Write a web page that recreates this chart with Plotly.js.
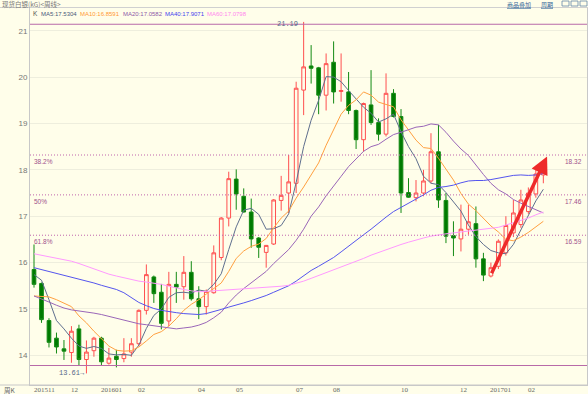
<!DOCTYPE html>
<html><head><meta charset="utf-8">
<script src="https://cdn.plot.ly/plotly-3.0.1.min.js"></script>
<style>html,body{margin:0;padding:0;background:#fffeea;overflow:hidden;}</style>
</head><body><div id="chart" style="width:588px;height:394px;"></div>
<script>
// ---- data (weekly, Nov 2015 - Feb 2017) ----
const open  = [15.85,15.55,14.75,14.37,14.14,14.06,14.57,13.91,14.10,14.37,13.83,13.98,13.93,14.07,14.25,14.97,15.69,15.36,14.74,15.53,15.48,15.79,15.22,15.05,15.35,16.11,16.96,17.80,17.43,17.09,16.53,16.22,16.40,17.34,17.50,17.71,19.72,20.24,20.20,19.61,20.32,19.69,19.68,19.28,18.65,19.40,19.02,18.77,19.65,19.15,17.51,17.40,17.50,17.76,18.39,17.34,16.58,16.51,16.72,16.84,16.08,15.71,15.92,16.21,16.64,16.82,17.10,17.48,17.89];
const high  = [16.39,15.57,14.80,14.49,14.33,14.63,14.66,14.32,14.40,14.40,14.16,14.12,14.37,14.37,14.99,15.96,15.72,15.54,15.80,15.80,16.14,16.03,15.49,15.42,16.37,16.98,17.96,18.01,17.60,17.38,16.55,16.38,17.37,17.87,18.32,19.90,21.19,20.69,20.22,20.51,20.77,20.51,20.11,19.30,19.45,20.15,19.11,20.08,19.74,19.31,17.82,17.78,18.00,18.79,18.97,17.50,16.89,17.25,17.25,17.21,16.21,16.00,16.50,17.00,17.35,17.57,17.62,18.00,18.09];
const low   = [15.46,14.70,14.17,14.04,13.90,13.84,13.78,13.61,13.97,13.79,13.80,13.74,13.85,13.97,14.20,14.88,15.13,14.56,14.63,15.13,15.20,15.18,14.78,14.88,15.33,16.05,16.78,17.14,17.08,16.32,16.10,15.89,16.38,17.12,17.07,17.50,19.18,19.86,19.20,19.28,19.43,19.47,19.20,18.45,18.39,18.97,18.63,18.72,19.13,17.07,17.40,17.32,17.43,17.71,17.18,16.42,16.14,16.24,16.60,15.89,15.60,15.68,15.86,16.15,16.55,16.75,17.05,17.40,17.71];
const close = [15.53,14.77,14.28,14.18,14.09,14.52,13.91,14.07,14.37,13.86,13.94,13.91,14.03,14.25,14.97,15.74,15.33,14.69,15.53,15.47,15.79,15.22,15.05,15.38,16.21,16.96,17.81,17.48,17.09,16.51,16.33,16.37,17.35,17.45,17.74,19.76,20.22,20.19,19.61,20.29,19.68,19.71,19.28,18.65,19.43,19.02,18.77,19.65,19.15,17.50,17.41,17.50,17.76,18.39,17.35,16.57,16.53,16.72,16.88,16.08,15.73,15.89,16.46,16.80,17.07,17.35,17.50,17.91,18.09];

const ma5  = [15.74,15.62,15.20,14.75,14.57,14.37,14.20,14.15,14.19,14.15,14.03,14.01,14.02,14.00,14.22,14.58,14.86,15.00,15.25,15.35,15.36,15.34,15.41,15.38,15.53,15.76,16.28,16.77,17.13,17.17,17.04,16.72,16.73,16.80,17.05,17.73,18.50,19.07,19.50,20.01,20.00,19.90,19.71,19.52,19.35,19.22,19.03,19.10,19.20,18.82,18.50,18.24,17.86,17.71,17.68,17.51,17.32,17.11,16.81,16.56,16.39,16.26,16.21,16.19,16.39,16.71,17.04,17.33,17.58];
const ma10 = [15.28,15.27,15.26,15.20,15.12,15.05,14.85,14.70,14.52,14.36,14.20,14.11,14.09,14.10,14.18,14.31,14.45,14.51,14.63,14.79,14.97,15.10,15.20,15.32,15.44,15.56,15.81,16.09,16.25,16.35,16.40,16.52,16.75,16.96,17.11,17.39,17.63,17.90,18.15,18.53,18.87,19.20,19.39,19.51,19.68,19.61,19.46,19.41,19.36,19.08,18.86,18.64,18.48,18.46,18.25,18.01,17.78,17.49,17.26,17.12,16.95,16.79,16.66,16.50,16.47,16.55,16.65,16.77,16.89];
const ma20 = [15.28,15.22,15.15,15.08,15.02,14.98,14.96,14.94,14.91,14.88,14.84,14.79,14.75,14.72,14.68,14.66,14.64,14.62,14.59,14.57,14.59,14.61,14.65,14.71,14.81,14.93,15.13,15.30,15.44,15.57,15.69,15.81,15.98,16.14,16.28,16.48,16.72,17.00,17.20,17.44,17.64,17.86,18.07,18.23,18.40,18.50,18.55,18.66,18.76,18.81,18.86,18.92,18.94,18.99,18.97,18.81,18.62,18.45,18.31,18.10,17.90,17.71,17.57,17.48,17.36,17.28,17.21,17.13,17.07];
const ma40 = [15.89,15.85,15.81,15.77,15.73,15.69,15.65,15.61,15.56,15.51,15.47,15.42,15.35,15.24,15.14,15.07,15.01,14.97,14.94,14.92,14.90,14.89,14.88,14.90,14.94,14.99,15.04,15.08,15.13,15.18,15.23,15.29,15.36,15.43,15.50,15.60,15.71,15.83,15.92,16.01,16.11,16.23,16.36,16.47,16.60,16.72,16.84,16.98,17.10,17.19,17.27,17.36,17.46,17.56,17.62,17.64,17.67,17.72,17.76,17.77,17.77,17.79,17.82,17.86,17.88,17.89,17.88,17.89,17.92];
const ma60 = [16.19,16.16,16.12,16.09,16.06,16.03,15.98,15.92,15.86,15.80,15.75,15.71,15.67,15.63,15.60,15.58,15.56,15.53,15.49,15.45,15.42,15.39,15.37,15.38,15.39,15.40,15.41,15.42,15.43,15.44,15.45,15.46,15.47,15.49,15.51,15.55,15.60,15.66,15.72,15.79,15.85,15.91,15.97,16.03,16.09,16.16,16.22,16.28,16.34,16.39,16.44,16.49,16.53,16.57,16.60,16.62,16.64,16.66,16.68,16.70,16.71,16.73,16.76,16.81,16.86,16.90,16.96,17.03,17.09];

const maNames  = ['MA5','MA10','MA20','MA40','MA60'];
const maLast   = ['17.5304','16.8591','17.0582','17.9071','17.0798'];
const yTicks   = [14,15,16,17,18,19,20,21];
const monthIdx = [0,5,9,14,22,27,35,40,49,57,61,66];
const monthLbl = ['201511','12','201601','02','04','05','07','08','10','12','201701','02'];
const fibLevels = [18.32,17.46,16.59];
const fibPct    = ['38.2%','50%','61.8%'];
const fibTop = 21.14, fibBottom = 13.78;
const maxLabel = '21.19', maxIdx = 36;
const minLabel = '13.61', minIdx = 7;
const trendFrom = [61.0, 15.74], trendTo = [68.5, 18.29];

// ---- presentation ----
const weeks = close.map((_, i) => i);
const BG = '#fffeea';
const maColors = ['#5f6f8e','#ffa040','#9a66b8','#5555ee','#ff99ff'];
const maText   = ['#4a5a7a','#ff9933','#8e5aa8','#4444ee','#ff88ee'];
const maData = [ma5, ma10, ma20, ma40, ma60];
const px = x => (x - 30) / 557;
const py = y => (385 - y) / 377;
const fibColor = '#c064ac';

const traces = [{
  type: 'candlestick', x: weeks, open, high, low, close,
  increasing: {line: {color: '#ff4f4f', width: 1}, fillcolor: 'rgba(0,0,0,0)'},
  decreasing: {line: {color: '#138a13', width: 1}, fillcolor: '#007a00'},
  whiskerwidth: 0, hoverinfo: 'skip', showlegend: false
}];
maData.forEach((d, k) => traces.push({
  type: 'scatter', mode: 'lines', x: weeks, y: d,
  line: {color: maColors[k], width: 1}, hoverinfo: 'skip', showlegend: false
}));

const shapes = [
  {type:'line', xref:'paper', yref:'paper', x0:px(0), x1:px(588), y0:py(7.5), y1:py(7.5), line:{color:'#d0d0d0', width:1}},
  {type:'line', xref:'paper', yref:'paper', x0:px(0), x1:px(588), y0:py(385), y1:py(385), line:{color:'#c8c8c8', width:1}},
  {type:'line', xref:'paper', yref:'y', x0:0, x1:1, y0:fibTop, y1:fibTop, line:{color:'#b86aa8', width:1.2}},
  {type:'line', xref:'paper', yref:'y', x0:0, x1:1, y0:fibBottom, y1:fibBottom, line:{color:'#b86aa8', width:1.2}}
];
fibLevels.forEach(v => shapes.push({type:'line', xref:'paper', yref:'y', x0:0, x1:1, y0:v, y1:v, line:{color:fibColor, width:1, dash:'1px,2px'}}));
[562,571,580].forEach(x => shapes.push({type:'rect', xref:'paper', yref:'paper', x0:px(x), x1:px(x+7), y0:py(6), y1:py(1), line:{color:'#6688aa', width:0.8}}));

const smallFont = (c, s) => ({family:'Liberation Sans, Arial, sans-serif', size:s||7, color:c});
const annotations = [];
annotations.push({xref:'paper', yref:'paper', x:px(0), y:py(4), xanchor:'left', yanchor:'middle', showarrow:false,
  text:'现货白银(kG)<周线>', font:{family:'Noto Sans CJK SC', size:6.5, color:'#777'}});
annotations.push({xref:'paper', yref:'paper', x:px(505), y:py(4), xanchor:'left', yanchor:'middle', showarrow:false,
  text:'<u>商品叠加</u>', font:{family:'Noto Sans CJK SC', size:6, color:'#336699'}});
annotations.push({xref:'paper', yref:'paper', x:px(539), y:py(4), xanchor:'left', yanchor:'middle', showarrow:false,
  text:'<u>周期</u>', font:{family:'Noto Sans CJK SC', size:6, color:'#336699'}});
annotations.push({xref:'paper', yref:'paper', x:px(31), y:py(14), xanchor:'left', yanchor:'middle', showarrow:false,
  text:'K', font:smallFont('#555', 6.5)});
const maLeft = [39,78,121,163,205];
maNames.forEach((n, k) => annotations.push({xref:'paper', yref:'paper', x:px(maLeft[k]), y:py(14), xanchor:'left', yanchor:'middle', showarrow:false,
  text: n + ':' + maLast[k], font: smallFont(maText[k], 6)}));
fibLevels.forEach((v, k) => {
  annotations.push({xref:'paper', yref:'y', x:px(32), y:v, xanchor:'left', yanchor:'top', yshift:-1, showarrow:false,
    text:fibPct[k], font:smallFont('#a0508a', 6.5)});
  annotations.push({xref:'paper', yref:'y', x:px(584), y:v, xanchor:'right', yanchor:'top', yshift:-1, showarrow:false,
    text:v.toFixed(2), font:smallFont('#a0508a', 6.5)});
});
annotations.push({x:maxIdx, y:fibTop, xanchor:'right', yanchor:'middle', xshift:-4, showarrow:false,
  text:maxLabel, font:{family:'Liberation Mono, monospace', size:7, color:'#556688'}});
annotations.push({x:minIdx, y:low[minIdx], xanchor:'right', yanchor:'middle', xshift:1, showarrow:false,
  text:minLabel + '→', font:{family:'Liberation Mono, monospace', size:7, color:'#556688'}});
monthIdx.forEach((m, k) => annotations.push({x:m, yref:'paper', y:py(389.5), xanchor:'left', yanchor:'middle', xshift:-2.5, showarrow:false,
  text:monthLbl[k], font:{family:'Liberation Serif, serif', size:7, color:'#666'}}));
annotations.push({xref:'paper', yref:'paper', x:px(2), y:py(389.5), xanchor:'left', yanchor:'middle', showarrow:false,
  text:'周K', font:{family:'Noto Sans CJK SC', size:6.5, color:'#666'}});
annotations.push({x:trendTo[0], y:trendTo[1], ax:trendFrom[0], ay:trendFrom[1], axref:'x', ayref:'y',
  showarrow:true, arrowhead:2, arrowsize:1, arrowwidth:3.5, arrowcolor:'#ee2a2a', text:''});

const layout = {
  width:588, height:394,
  margin:{l:30, r:1, t:8, b:9, pad:0},
  paper_bgcolor:BG, plot_bgcolor:BG,
  showlegend:false,
  xaxis:{range:[-0.534, 73.83], showticklabels:false, showgrid:false, zeroline:false,
    showline:true, linecolor:'#c8c8c8', linewidth:1, mirror:true, rangeslider:{visible:false}, fixedrange:true},
  yaxis:{range:[13.36, 21.49], tickvals:yTicks, ticktext:yTicks.map(String), ticks:'',
    tickfont:{family:'Liberation Sans, Arial, sans-serif', size:8, color:'#777'},
    showgrid:true, gridcolor:'#eeeedd', gridwidth:1, zeroline:false,
    showline:true, linecolor:'#c8c8c8', linewidth:1, mirror:true, fixedrange:true},
  shapes, annotations
};
Plotly.newPlot('chart', traces, layout, {displayModeBar:false, staticPlot:true});
</script></body></html>
